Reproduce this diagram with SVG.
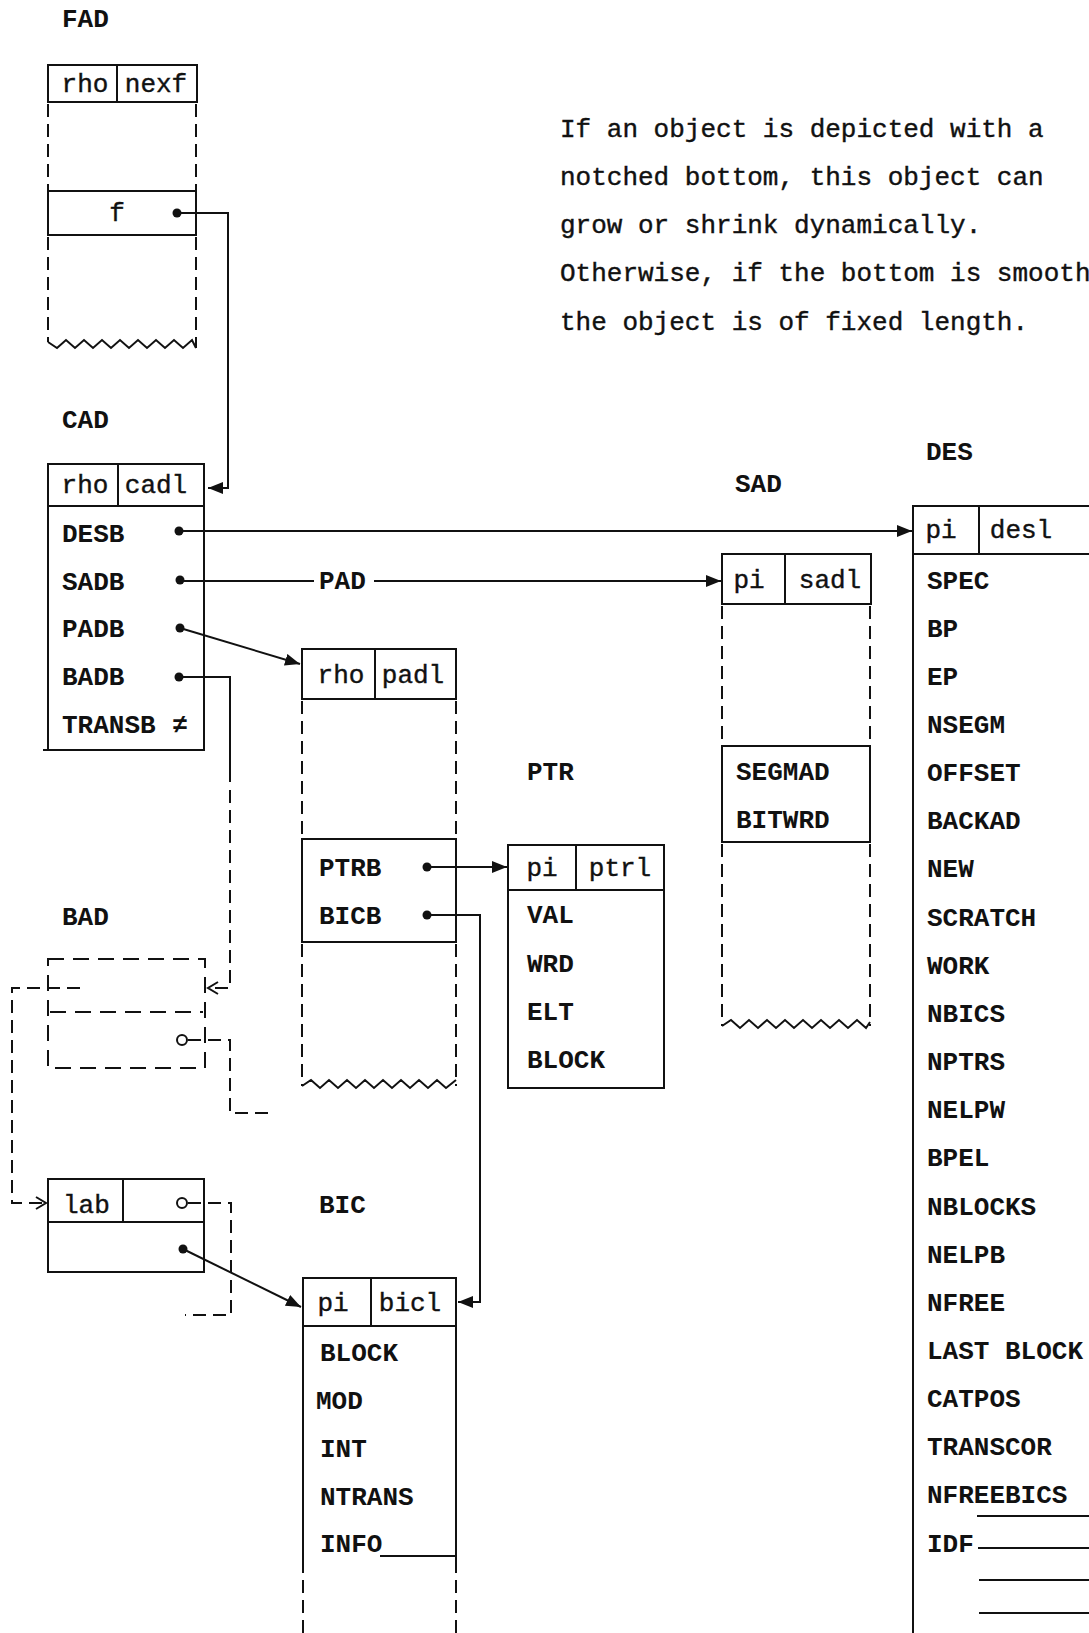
<svg xmlns="http://www.w3.org/2000/svg" width="1089" height="1633" viewBox="0 0 1089 1633">
<style>
.bx{fill:none;stroke:#111;stroke-width:2}
.ds{fill:none;stroke:#111;stroke-width:2;stroke-dasharray:13 7}
.bd{fill:none;stroke:#111;stroke-width:2;stroke-dasharray:16 9}
.ln{fill:none;stroke:#111;stroke-width:2}
.t{font-family:"Liberation Mono","DejaVu Sans Mono",monospace;font-size:26px;fill:#111;stroke:#111;stroke-width:0.4}
.b{font-weight:bold;stroke-width:0}
.c{text-anchor:middle}
.dot{fill:#111}
.ring{fill:#fff;stroke:#111;stroke-width:2}
</style>
<defs>
<marker id="ah" markerUnits="userSpaceOnUse" markerWidth="16" markerHeight="12" refX="15" refY="6" orient="auto">
<path d="M0,0 L15,6 L0,12 z" fill="#111"/>
</marker>
<marker id="oh" markerUnits="userSpaceOnUse" markerWidth="14" markerHeight="14" refX="12" refY="7" orient="auto">
<path d="M2,1 L12,7 L2,13" fill="none" stroke="#111" stroke-width="2"/>
</marker>
</defs>
<rect width="1089" height="1633" fill="#fff"/>

<g id="note">
<text class="t" x="560" y="137">If an object is depicted with a</text>
<text class="t" x="560" y="185">notched bottom, this object can</text>
<text class="t" x="560" y="233">grow or shrink dynamically.</text>
<text class="t" x="560" y="281">Otherwise, if the bottom is smooth</text>
<text class="t" x="560" y="330">the object is of fixed length.</text>
</g>

<g id="FAD">
<text class="t b" x="62" y="27">FAD</text>
<rect class="bx" x="48" y="65" width="149" height="37"/>
<line class="ln" x1="117" y1="65" x2="117" y2="102"/>
<text class="t c" x="85" y="92">rho</text>
<text class="t c" x="156" y="92">nexf</text>
<line class="ds" x1="48" y1="104" x2="48" y2="191"/>
<line class="ds" x1="196" y1="104" x2="196" y2="191"/>
<rect class="bx" x="48" y="191" width="148" height="44"/>
<text class="t c" x="117" y="221">f</text>
<circle class="dot" cx="177" cy="213" r="4.5"/>
<line class="ds" x1="48" y1="237" x2="48" y2="342"/>
<line class="ds" x1="196" y1="237" x2="196" y2="348"/>
<path class="ln" d="M48,342 L57,348 L66,340 L75,348 L84,340 L93,348 L102,340 L111,348 L120,340 L129,348 L138,340 L147,348 L156,340 L165,348 L174,340 L183,348 L192,340 L196,348"/>
</g>

<g id="CAD">
<text class="t b" x="62" y="428">CAD</text>
<rect class="bx" x="48" y="464" width="156" height="286"/>
<line class="ln" x1="43" y1="750" x2="48" y2="750"/>
<line class="ln" x1="48" y1="506" x2="204" y2="506"/>
<line class="ln" x1="118" y1="464" x2="118" y2="506"/>
<text class="t c" x="85" y="493">rho</text>
<text class="t c" x="156" y="493">cadl</text>
<text class="t b" x="62" y="542">DESB</text>
<text class="t b" x="62" y="590">SADB</text>
<text class="t b" x="62" y="637">PADB</text>
<text class="t b" x="62" y="685">BADB</text>
<text class="t b" x="62" y="733">TRANSB</text>
<text class="t b c" x="180" y="733">≠</text>
<circle class="dot" cx="179" cy="531" r="4.5"/>
<circle class="dot" cx="180" cy="580" r="4.5"/>
<circle class="dot" cx="180" cy="628" r="4.5"/>
<circle class="dot" cx="179" cy="677" r="4.5"/>
</g>

<g id="BAD">
<text class="t b" x="62" y="925">BAD</text>
<rect class="bd" x="48" y="959" width="157" height="109"/>
<line class="bd" x1="50" y1="1012" x2="203" y2="1012"/>
<circle class="ring" cx="182" cy="1040" r="5"/>
</g>

<g id="LAB">
<rect class="bx" x="48" y="1179" width="156" height="93"/>
<line class="ln" x1="48" y1="1222" x2="204" y2="1222"/>
<line class="ln" x1="123" y1="1179" x2="123" y2="1222"/>
<text class="t" x="63" y="1213">lab</text>
<circle class="ring" cx="182" cy="1203" r="5"/>
<circle class="dot" cx="183" cy="1249" r="4.5"/>
</g>

<g id="PAD">
<text class="t b" x="319" y="589">PAD</text>
<rect class="bx" x="302" y="649" width="154" height="50"/>
<line class="ln" x1="375" y1="649" x2="375" y2="699"/>
<text class="t c" x="341" y="683">rho</text>
<text class="t c" x="413" y="683">padl</text>
<line class="ds" x1="302" y1="701" x2="302" y2="839"/>
<line class="ds" x1="456" y1="701" x2="456" y2="839"/>
<rect class="bx" x="302" y="839" width="154" height="103"/>
<text class="t b" x="319" y="876">PTRB</text>
<text class="t b" x="319" y="924">BICB</text>
<circle class="dot" cx="427" cy="867" r="4.5"/>
<circle class="dot" cx="427" cy="915" r="4.5"/>
<line class="ds" x1="302" y1="944" x2="302" y2="1086"/>
<line class="ds" x1="456" y1="944" x2="456" y2="1086"/>
<path class="ln" d="M302,1086 L311,1080 L320,1088 L329,1080 L338,1088 L347,1080 L356,1088 L365,1080 L374,1088 L383,1080 L392,1088 L401,1080 L410,1088 L419,1080 L428,1088 L437,1080 L446,1088 L456,1080"/>
</g>

<g id="PTR">
<text class="t b" x="527" y="780">PTR</text>
<rect class="bx" x="508" y="845" width="156" height="243"/>
<line class="ln" x1="508" y1="890" x2="664" y2="890"/>
<line class="ln" x1="576" y1="845" x2="576" y2="890"/>
<text class="t c" x="542" y="876">pi</text>
<text class="t c" x="620" y="876">ptrl</text>
<text class="t b" x="527" y="923">VAL</text>
<text class="t b" x="527" y="972">WRD</text>
<text class="t b" x="527" y="1020">ELT</text>
<text class="t b" x="527" y="1068">BLOCK</text>
</g>

<g id="SAD">
<text class="t b" x="735" y="492">SAD</text>
<rect class="bx" x="722" y="554" width="149" height="50"/>
<line class="ln" x1="785" y1="554" x2="785" y2="604"/>
<text class="t c" x="749" y="588">pi</text>
<text class="t c" x="830" y="588">sadl</text>
<line class="ds" x1="722" y1="606" x2="722" y2="746"/>
<line class="ds" x1="870" y1="606" x2="870" y2="746"/>
<rect class="bx" x="722" y="746" width="148" height="96"/>
<text class="t b" x="736" y="780">SEGMAD</text>
<text class="t b" x="736" y="828">BITWRD</text>
<line class="ds" x1="722" y1="844" x2="722" y2="1026"/>
<line class="ds" x1="870" y1="844" x2="870" y2="1026"/>
<path class="ln" d="M722,1026 L731,1020 L740,1028 L749,1020 L758,1028 L767,1020 L776,1028 L785,1020 L794,1028 L803,1020 L812,1028 L821,1020 L830,1028 L839,1020 L848,1028 L857,1020 L866,1028 L870,1022"/>
</g>

<g id="DES">
<text class="t b" x="926" y="460">DES</text>
<path class="ln" d="M1095,506 H913 V1640"/>
<line class="ln" x1="913" y1="554" x2="1095" y2="554"/>
<line class="ln" x1="979" y1="506" x2="979" y2="554"/>
<text class="t c" x="941" y="538">pi</text>
<text class="t c" x="1021" y="538">desl</text>
<text class="t b" x="927" y="589">SPEC</text>
<text class="t b" x="927" y="637">BP</text>
<text class="t b" x="927" y="685">EP</text>
<text class="t b" x="927" y="733">NSEGM</text>
<text class="t b" x="927" y="781">OFFSET</text>
<text class="t b" x="927" y="829">BACKAD</text>
<text class="t b" x="927" y="877">NEW</text>
<text class="t b" x="927" y="926">SCRATCH</text>
<text class="t b" x="927" y="974">WORK</text>
<text class="t b" x="927" y="1022">NBICS</text>
<text class="t b" x="927" y="1070">NPTRS</text>
<text class="t b" x="927" y="1118">NELPW</text>
<text class="t b" x="927" y="1166">BPEL</text>
<text class="t b" x="927" y="1215">NBLOCKS</text>
<text class="t b" x="927" y="1263">NELPB</text>
<text class="t b" x="927" y="1311">NFREE</text>
<text class="t b" x="927" y="1359">LAST BLOCK</text>
<text class="t b" x="927" y="1407">CATPOS</text>
<text class="t b" x="927" y="1455">TRANSCOR</text>
<text class="t b" x="927" y="1503">NFREEBICS</text>
<text class="t b" x="927" y="1552">IDF</text>
<line class="ln" x1="977" y1="1516" x2="1095" y2="1516"/>
<line class="ln" x1="978" y1="1548" x2="1095" y2="1548"/>
<line class="ln" x1="979" y1="1580" x2="1095" y2="1580"/>
<line class="ln" x1="979" y1="1613" x2="1095" y2="1613"/>
</g>

<g id="BIC">
<text class="t b" x="319" y="1213">BIC</text>
<path class="ln" d="M303,1573 V1278 H456 V1573"/>
<line class="ln" x1="303" y1="1326" x2="456" y2="1326"/>
<line class="ln" x1="371" y1="1278" x2="371" y2="1326"/>
<text class="t c" x="333" y="1311">pi</text>
<text class="t c" x="410" y="1311">bicl</text>
<text class="t b" x="320" y="1361">BLOCK</text>
<text class="t b" x="316" y="1409">MOD</text>
<text class="t b" x="320" y="1457">INT</text>
<text class="t b" x="320" y="1505">NTRANS</text>
<text class="t b" x="320" y="1552">INFO</text>
<line class="ln" x1="380" y1="1556" x2="456" y2="1556"/>
<line class="ds" x1="303" y1="1580" x2="303" y2="1640"/>
<line class="ds" x1="456" y1="1580" x2="456" y2="1640"/>
</g>

<g id="connectors">
<path class="ln" d="M177,213 H228 V488 H208" marker-end="url(#ah)"/>
<path class="ln" d="M179,531 H912" marker-end="url(#ah)"/>
<path class="ln" d="M180,581 H314"/>
<path class="ln" d="M374,581 H721" marker-end="url(#ah)"/>
<path class="ln" d="M180,628 L300,664" marker-end="url(#ah)"/>
<path class="ln" d="M179,677 H230 V782"/>
<path class="ds" d="M230,790 V988 H208" marker-end="url(#oh)"/>
<path class="ds" d="M188,1040 H230 V1113 H268"/>
<path class="ds" d="M80,988 H12 V1203 H46" marker-end="url(#oh)"/>
<path class="ds" d="M188,1203 H231 V1315 H185"/>
<path class="ln" d="M183,1249 L301,1307" marker-end="url(#ah)"/>
<path class="ln" d="M427,867 H507" marker-end="url(#ah)"/>
<path class="ln" d="M427,915 H480 V1302 H458" marker-end="url(#ah)"/>
</g>
</svg>
